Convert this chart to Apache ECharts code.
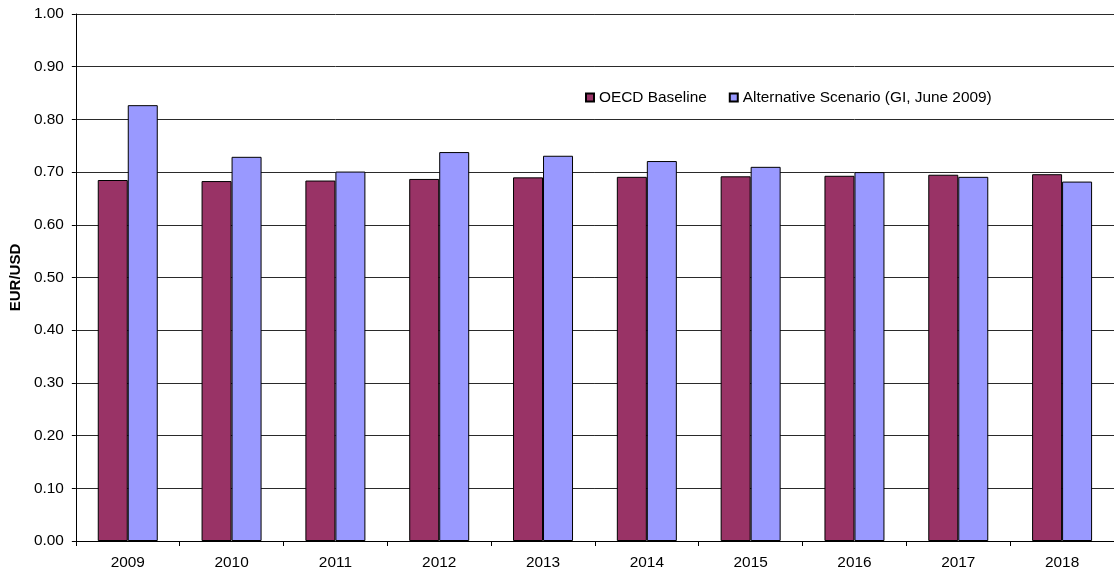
<!DOCTYPE html>
<html>
<head>
<meta charset="utf-8">
<script src="https://cdn.jsdelivr.net/npm/echarts@6/dist/echarts.min.js"></script>
<style>
  html, body { margin: 0; padding: 0; background: #fff; }
  #chart { width: 1114px; height: 572px; }
</style>
</head>
<body>
<div id="chart"></div>
<script>
// EUR/USD exchange rate projections
const years = ['2009', '2010', '2011', '2012', '2013', '2014', '2015', '2016', '2017', '2018'];
const oecdBaseline = [0.685, 0.683, 0.684, 0.687, 0.690, 0.691, 0.692, 0.693, 0.695, 0.696];
const alternativeScenario = [0.827, 0.729, 0.701, 0.738, 0.731, 0.721, 0.710, 0.700, 0.691, 0.682];
const seriesNames = ['OECD Baseline', 'Alternative Scenario (GI, June 2009)'];

const font = 'Liberation Sans, Arial, sans-serif';

const chart = echarts.init(document.getElementById('chart'), null, { renderer: 'canvas' });
chart.setOption({
  animation: false,
  backgroundColor: '#ffffff',
  textStyle: { fontFamily: font },
  grid: { left: 75, right: 0, top: 14, bottom: 31, containLabel: false },
  legend: {
    left: 585,
    top: 90,
    padding: 0,
    icon: 'rect',
    itemWidth: 8,
    itemHeight: 8,
    itemGap: 22,
    textStyle: { fontFamily: font, fontSize: 15.4, color: '#000' },
    data: seriesNames
  },
  xAxis: {
    type: 'category',
    data: years,
    boundaryGap: true,
    axisLine: { lineStyle: { color: '#000', width: 1 } },
    axisTick: { show: true, alignWithLabel: false, length: 5, lineStyle: { color: '#000' } },
    axisLabel: { color: '#000', fontFamily: font, fontSize: 15.4, margin: 14 },
    splitLine: { show: false }
  },
  yAxis: {
    type: 'value',
    min: 0,
    max: 1,
    interval: 0.1,
    name: 'EUR/USD',
    nameLocation: 'middle',
    nameGap: 50,
    nameTextStyle: { color: '#000', fontFamily: font, fontSize: 15, fontWeight: 'bold' },
    axisLine: { show: true, lineStyle: { color: '#000', width: 1 } },
    axisTick: { show: true, inside: false, length: 4, lineStyle: { color: '#000' } },
    axisLabel: {
      color: '#000', fontFamily: font, fontSize: 15.4, margin: 12,
      formatter: v => v.toFixed(2)
    },
    splitLine: { show: true, lineStyle: { color: '#2a2a2a', width: 1 } }
  },
  series: [
    {
      name: seriesNames[0],
      type: 'bar',
      data: oecdBaseline,
      barWidth: 30,
      barGap: '0%',
      itemStyle: { color: '#993366', borderColor: '#000', borderWidth: 1 }
    },
    {
      name: seriesNames[1],
      type: 'bar',
      data: alternativeScenario,
      barWidth: 30,
      barGap: '0%',
      itemStyle: { color: '#9999ff', borderColor: '#000', borderWidth: 1 }
    }
  ]
});
</script>
</body>
</html>
